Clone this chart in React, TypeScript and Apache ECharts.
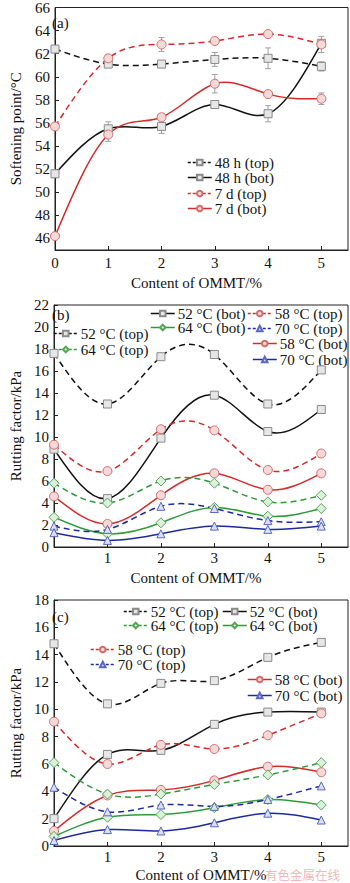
import React, { useEffect, useRef } from 'react';
import * as echarts from 'echarts';

// ---------------- data ----------------
const xContent = [0, 1, 2, 3, 4, 5];
const xTicksA = [0, 1, 2, 3, 4, 5];
const xTicksBC = [1, 2, 3, 4, 5];
const yTicksA = [46, 48, 50, 52, 54, 56, 58, 60, 62, 64, 66];
const yTicksB = [0, 2, 4, 6, 8, 10, 12, 14, 16, 18, 20, 22];
const yTicksC = [0, 2, 4, 6, 8, 10, 12, 14, 16, 18];

// (a) softening point / °C
const soft48Top = [62.4, 61.1, 61.1, 61.5, 61.6, 60.9];
const soft48Bot = [51.6, 55.5, 55.7, 57.6, 56.8, 62.9];
const soft7Top = [55.7, 61.6, 62.8, 63.1, 63.7, 62.8];
const soft7Bot = [46.2, 55.0, 56.5, 59.4, 58.5, 58.1];
const err48Top = [0.2, 0.2, 0.2, 0.6, 0.9, 0.4];
const err48Bot = [0.3, 0.6, 0.6, 0.3, 0.7, 0.3];
const err7Top = [0.2, 0.3, 0.6, 0.3, 0.2, 0.7];
const err7Bot = [0.2, 0.6, 0.3, 0.8, 0.3, 0.5];

// (b) rutting factor / kPa
const b52Top = [17.6, 13.0, 17.3, 17.5, 13.0, 16.1];
const b52Bot = [8.9, 4.4, 9.9, 13.8, 10.5, 12.5];
const b58Top = [9.3, 6.9, 10.7, 10.6, 7.0, 8.5];
const b58Bot = [4.6, 2.1, 4.7, 6.7, 5.2, 6.7];
const b64Top = [5.8, 4.0, 6.0, 5.8, 4.1, 4.7];
const b64Bot = [2.7, 1.2, 2.2, 3.6, 2.8, 3.5];
const b70Top = [1.9, 1.6, 3.7, 3.5, 2.4, 2.3];
const b70Bot = [1.3, 0.6, 1.2, 1.9, 1.6, 1.9];

// (c) rutting factor / kPa
const c52Top = [14.8, 10.4, 11.9, 12.1, 13.8, 14.9];
const c52Bot = [2.0, 6.7, 7.0, 8.9, 9.8, 9.8];
const c58Top = [9.1, 6.0, 7.4, 7.1, 8.1, 9.7];
const c58Bot = [1.1, 3.7, 4.1, 4.8, 5.8, 5.4];
const c64Top = [6.1, 3.8, 3.8, 4.5, 5.2, 6.1];
const c64Bot = [0.7, 2.1, 2.3, 2.8, 3.4, 3.0];
const c70Top = [4.3, 2.5, 3.0, 2.9, 3.4, 4.4];
const c70Bot = [0.4, 1.2, 1.1, 1.7, 2.4, 1.9];

// ---------------- styles ----------------
const FONT = 'Liberation Serif';
const FS = 15;
const BLACK = '#111111';
const RED = '#d42a2a';
const GREEN = '#2e9a3a';
const BLUE = '#1c2aa0';
const DASH = [6, 4];
const MARK: Record<string, { fill: string; border: string }> = {
  rect: { fill: '#e6e6e6', border: '#8a8a8a' },
  circle: { fill: '#f5d8d8', border: '#d46a6a' },
  diamond: { fill: '#ddf0dd', border: '#55a655' },
  triangle: { fill: '#dce0f3', border: '#5868c4' },
};

// cubic spline path drawn through points already mapped by the axes (api.coord)
echarts.graphic.registerShape(
  'splineCurve',
  echarts.graphic.extendShape({
    shape: { pts: [] as number[][] },
    buildPath(ctx: any, shape: any) {
      const p: number[][] = shape.pts;
      if (!p || p.length < 2) return;
      const n = p.length;
      const h: number[] = [];
      for (let i = 0; i < n - 1; i++) h[i] = p[i + 1][0] - p[i][0];
      const M = new Array(n).fill(0);
      if (n > 2) {
        const m = n - 2;
        const a: number[] = [], b: number[] = [], c: number[] = [], d: number[] = [];
        for (let k = 0; k < m; k++) {
          const i = k + 1;
          a[k] = h[i - 1];
          b[k] = 2 * (h[i - 1] + h[i]);
          c[k] = h[i];
          d[k] = 6 * ((p[i + 1][1] - p[i][1]) / h[i] - (p[i][1] - p[i - 1][1]) / h[i - 1]);
        }
        for (let k = 1; k < m; k++) {
          const w = a[k] / b[k - 1];
          b[k] -= w * c[k - 1];
          d[k] -= w * d[k - 1];
        }
        const sol: number[] = new Array(m);
        sol[m - 1] = d[m - 1] / b[m - 1];
        for (let k = m - 2; k >= 0; k--) sol[k] = (d[k] - c[k] * sol[k + 1]) / b[k];
        for (let k = 0; k < m; k++) M[k + 1] = sol[k];
      }
      ctx.moveTo(p[0][0], p[0][1]);
      for (let i = 0; i < n - 1; i++) {
        const hi = h[i];
        const s = (p[i + 1][1] - p[i][1]) / hi;
        const d0 = s - (hi * (2 * M[i] + M[i + 1])) / 6;
        const d1 = s + (hi * (M[i] + 2 * M[i + 1])) / 6;
        ctx.bezierCurveTo(
          p[i][0] + hi / 3, p[i][1] + (d0 * hi) / 3,
          p[i + 1][0] - hi / 3, p[i + 1][1] - (d1 * hi) / 3,
          p[i + 1][0], p[i + 1][1]
        );
      }
    },
  })
);

type Sym = 'rect' | 'circle' | 'diamond' | 'triangle';

function markerSeries(name: string, values: number[], color: string, dashed: boolean, symbol: Sym, idx: number) {
  const m = MARK[symbol];
  return {
    type: 'line',
    name,
    xAxisIndex: idx,
    yAxisIndex: idx,
    data: xContent.map((x, i) => [x, values[i]]),
    symbol,
    symbolSize: symbol === 'diamond' ? 10 : symbol === 'circle' ? 9 : 8,
    showAllSymbol: true,
    clip: false,
    lineStyle: { color, width: 1.5, type: dashed ? DASH : 'solid', opacity: 0 },
    itemStyle: { color: m.fill, borderColor: m.border, borderWidth: 1 },
    emphasis: { disabled: true },
    z: 4,
  };
}

function curveSeries(values: number[], color: string, dashed: boolean, idx: number) {
  return {
    type: 'custom',
    xAxisIndex: idx,
    yAxisIndex: idx,
    silent: true,
    clip: true,
    z: 3,
    data: xContent.map((x, i) => [x, values[i]]),
    renderItem: (params: any, api: any) => {
      if (params.dataIndexInside !== 0) return null;
      const n = params.dataInsideLength;
      const pts: number[][] = [];
      for (let k = 0; k < n; k++) pts.push(api.coord([api.value(0, k), api.value(1, k)]));
      return {
        type: 'splineCurve',
        shape: { pts },
        style: { stroke: color, lineWidth: 1.5, fill: 'none', lineDash: dashed ? DASH : null },
      };
    },
  };
}

function errSeries(values: number[], errs: number[]) {
  return {
    type: 'custom',
    xAxisIndex: 0,
    yAxisIndex: 0,
    silent: true,
    z: 2,
    data: xContent.map((x, i) => [x, values[i], errs[i]]),
    renderItem: (_p: any, api: any) => {
      const x = api.value(0);
      const y = api.value(1);
      const e = api.value(2);
      const hi = api.coord([x, y + e]);
      const lo = api.coord([x, y - e]);
      const w = 3;
      const st = { stroke: '#a0a0a0', lineWidth: 1 };
      return {
        type: 'group',
        children: [
          { type: 'line', shape: { x1: hi[0], y1: hi[1], x2: lo[0], y2: lo[1] }, style: st },
          { type: 'line', shape: { x1: hi[0] - w, y1: hi[1], x2: hi[0] + w, y2: hi[1] }, style: st },
          { type: 'line', shape: { x1: lo[0] - w, y1: lo[1], x2: lo[0] + w, y2: lo[1] }, style: st },
        ],
      };
    },
  };
}

function legendItem(name: string, left: number, cy: number, color: string, dashed: boolean) {
  return {
    data: [name],
    left,
    top: cy - 7,
    padding: 0,
    itemWidth: 24,
    itemHeight: 7,
    itemGap: 0,
    selectedMode: false,
    lineStyle: { color, width: 1.5, type: dashed ? [3, 2] : 'solid', opacity: 1 },
    textStyle: { fontFamily: FONT, fontSize: FS, lineHeight: 13, color: BLACK, padding: [0, 0, 0, -2] },
  };
}

const axisCommon = {
  axisLine: { show: true, onZero: false, lineStyle: { color: '#222', width: 1 } },
  splitLine: { show: false },
};

function xAxis(idx: number, ticks: number[], nameGap: number, labelMargin: number, namePad: number[]) {
  return {
    ...axisCommon,
    type: 'value',
    gridIndex: idx,
    min: 0,
    max: 5.5,
    interval: 1,
    name: 'Content of OMMT/%',
    nameLocation: 'middle',
    nameGap,
    nameTextStyle: { fontFamily: FONT, fontSize: FS, color: BLACK, padding: namePad },
    axisTick: { show: true, inside: true, length: 4, customValues: ticks, lineStyle: { color: '#222' } },
    axisLabel: { fontFamily: FONT, fontSize: FS, color: BLACK, margin: labelMargin, customValues: ticks },
  };
}

function yAxis(idx: number, min: number, max: number, ticks: number[], name: string, nameGap: number) {
  return {
    ...axisCommon,
    type: 'value',
    gridIndex: idx,
    min,
    max,
    interval: 2,
    name,
    nameLocation: 'middle',
    nameRotate: 90,
    nameGap,
    nameTextStyle: { fontFamily: FONT, fontSize: FS, color: BLACK },
    axisTick: { show: true, inside: true, length: 4, customValues: ticks, lineStyle: { color: '#222' } },
    axisLabel: { fontFamily: FONT, fontSize: FS, color: BLACK, margin: 5, customValues: ticks },
  };
}

export default function App() {
  const ref = useRef<HTMLDivElement>(null);
  useEffect(() => {
    if (!ref.current) return;
    const chart = echarts.init(ref.current, null, { renderer: 'svg' });
    const curves: any[] = [];
    const marks: any[] = [];
    const add = (name: string, vals: number[], color: string, dashed: boolean, sym: Sym, idx: number) => {
      curves.push(curveSeries(vals, color, dashed, idx));
      marks.push(markerSeries(name, vals, color, dashed, sym, idx));
    };
    add('48 h (top)', soft48Top, BLACK, true, 'rect', 0);
    add('48 h (bot)', soft48Bot, BLACK, false, 'rect', 0);
    add('7 d (top)', soft7Top, RED, true, 'circle', 0);
    add('7 d (bot)', soft7Bot, RED, false, 'circle', 0);

    add('52 °C (top)', b52Top, BLACK, true, 'rect', 1);
    add('52 °C (bot)', b52Bot, BLACK, false, 'rect', 1);
    add('58 °C (top)', b58Top, RED, true, 'circle', 1);
    add('58 °C (bot)', b58Bot, RED, false, 'circle', 1);
    add('64 °C (top)', b64Top, GREEN, true, 'diamond', 1);
    add('64 °C (bot)', b64Bot, GREEN, false, 'diamond', 1);
    add('70 °C (top)', b70Top, BLUE, true, 'triangle', 1);
    add('70 °C (bot)', b70Bot, BLUE, false, 'triangle', 1);

    add('52 °C (top)', c52Top, BLACK, true, 'rect', 2);
    add('52 °C (bot)', c52Bot, BLACK, false, 'rect', 2);
    add('58 °C (top)', c58Top, RED, true, 'circle', 2);
    add('58 °C (bot)', c58Bot, RED, false, 'circle', 2);
    add('64 °C (top)', c64Top, GREEN, true, 'diamond', 2);
    add('64 °C (bot)', c64Bot, GREEN, false, 'diamond', 2);
    add('70 °C (top)', c70Top, BLUE, true, 'triangle', 2);
    add('70 °C (bot)', c70Bot, BLUE, false, 'triangle', 2);

    const option = {
      animation: false,
      backgroundColor: '#ffffff',
      grid: [
        { left: 46, top: 5, width: 302, height: 245, show: true, borderColor: '#222', borderWidth: 1 },
        { left: 46, top: 305, width: 302, height: 242, show: true, borderColor: '#222', borderWidth: 1 },
        { left: 46, top: 600, width: 302, height: 247, show: true, borderColor: '#222', borderWidth: 1 },
      ],
      xAxis: [
        xAxis(0, xTicksA, 25, 5, [0, 10, 0, 0]),
        xAxis(1, xTicksBC, 23, 3, [0, 10, 0, 0]),
        xAxis(2, xTicksBC, 21, 3, [0, 0, 0, 0]),
      ],
      yAxis: [
        yAxis(0, 45, 66, yTicksA, 'Softening point/°C', 32),
        yAxis(1, 0, 22, yTicksB, 'Rutting factor/kPa', 31),
        yAxis(2, 0, 18, yTicksC, 'Rutting factor/kPa', 31),
      ],
      legend: [
        legendItem('48 h (top)', 187, 162, BLACK, true),
        legendItem('48 h (bot)', 187, 177, BLACK, false),
        legendItem('7 d (top)', 187, 193, RED, true),
        legendItem('7 d (bot)', 187, 208, RED, false),

        legendItem('52 °C (bot)', 150, 313, BLACK, false),
        legendItem('58 °C (top)', 247, 313, RED, true),
        legendItem('52 °C (top)', 53, 333, BLACK, true),
        legendItem('64 °C (bot)', 150, 327, GREEN, false),
        legendItem('70 °C (top)', 247, 328, BLUE, true),
        legendItem('64 °C (top)', 53, 349, GREEN, true),
        legendItem('58 °C (bot)', 252, 343, RED, false),
        legendItem('70 °C (bot)', 252, 359, BLUE, false),

        legendItem('52 °C (top)', 123, 611, BLACK, true),
        legendItem('52 °C (bot)', 222, 611, BLACK, false),
        legendItem('64 °C (top)', 123, 625, GREEN, true),
        legendItem('64 °C (bot)', 222, 625, GREEN, false),
        legendItem('58 °C (top)', 90, 649, RED, true),
        legendItem('70 °C (top)', 90, 664, BLUE, true),
        legendItem('58 °C (bot)', 247, 679, RED, false),
        legendItem('70 °C (bot)', 247, 695, BLUE, false),
      ],
      graphic: [
        { type: 'text', left: 52, top: 15, style: { text: '(a)', font: `${FS}px "${FONT}"`, fill: BLACK } },
        { type: 'text', left: 52, top: 307, style: { text: '(b)', font: `${FS}px "${FONT}"`, fill: BLACK } },
        { type: 'text', left: 52, top: 609, style: { text: '(c)', font: `${FS}px "${FONT}"`, fill: BLACK } },
        { type: 'text', left: 265, top: 868, z: 100, style: { text: '有色金属在线', font: '12.5px "Noto Sans CJK SC"', fill: 'rgba(232,120,120,0.55)' } },
      ],
      series: [
        errSeries(soft48Top, err48Top),
        errSeries(soft48Bot, err48Bot),
        errSeries(soft7Top, err7Top),
        errSeries(soft7Bot, err7Bot),
        ...curves,
        ...marks,
      ],
    };
    chart.setOption(option as any);
    return () => chart.dispose();
  }, []);
  return (
    <div
      ref={ref}
      style={{ position: 'fixed', left: 0, top: 0, width: 350, height: 883, background: '#fff' }}
    />
  );
}
